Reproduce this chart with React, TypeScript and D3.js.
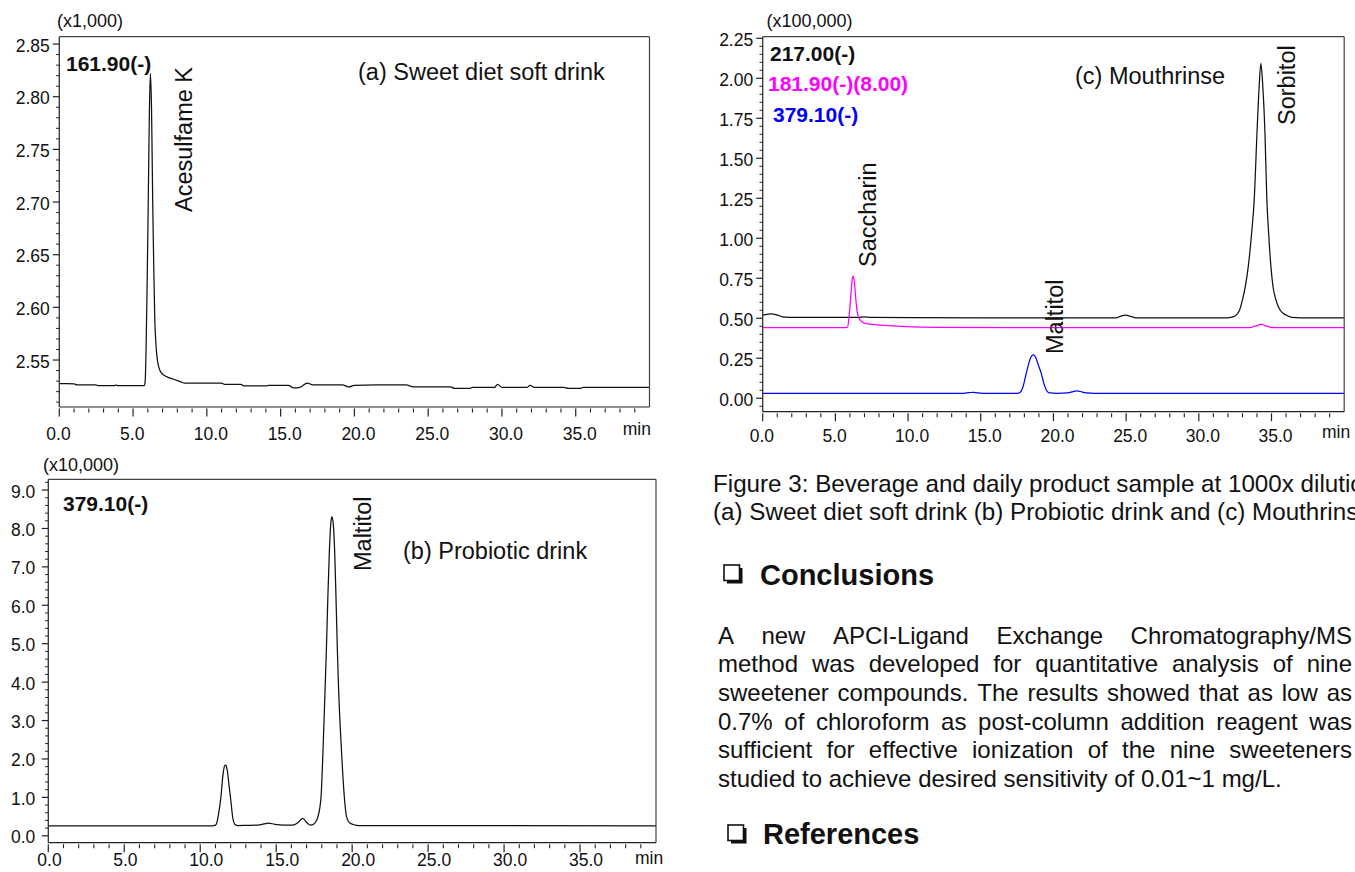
import React from 'react';
import * as d3 from 'd3';

type Pt = [number, number];

// ---------- data ----------
const timeTicks = [0, 5, 10, 15, 20, 25, 30, 35];
const yTicksA = [2.55, 2.6, 2.65, 2.7, 2.75, 2.8, 2.85];
const yTicksB = [0, 1, 2, 3, 4, 5, 6, 7, 8, 9];
const yTicksC = [0, 0.25, 0.5, 0.75, 1, 1.25, 1.5, 1.75, 2, 2.25];

// (a) Sweet diet soft drink, m/z 161.90(-), x1,000
const traceA161: Pt[] = [
  [0, 2.5275], [0.5, 2.5275], [1.0, 2.5274], [1.2, 2.5264], [2.5, 2.5263], [2.6, 2.5256],
  [3.7, 2.5256], [3.8, 2.5262], [4.0, 2.5256], [5.7, 2.5256], [5.76, 2.5258], [5.82, 2.53],
  [5.88, 2.56], [5.95, 2.62], [6.02, 2.69], [6.1, 2.78], [6.17, 2.822], [6.25, 2.79],
  [6.33, 2.70], [6.4, 2.64], [6.47, 2.59], [6.55, 2.565], [6.62, 2.553], [6.75, 2.543],
  [6.9, 2.538], [7.3, 2.534], [7.7, 2.532], [8.2, 2.5295], [8.5, 2.528], [11.0, 2.528],
  [11.2, 2.527], [12.3, 2.527], [12.5, 2.5255], [14.0, 2.5255], [14.2, 2.526], [15.5, 2.526],
  [15.9, 2.5235], [16.3, 2.524], [16.8, 2.528], [17.2, 2.5265], [19.2, 2.5265], [19.6, 2.5245],
  [20.0, 2.526], [21.5, 2.5265], [23.5, 2.5265], [24.0, 2.5245], [26.5, 2.5245], [26.8, 2.523],
  [27.8, 2.523], [28.0, 2.524], [29.5, 2.524], [29.7, 2.527], [30.0, 2.524], [31.7, 2.524],
  [31.9, 2.526], [32.2, 2.524], [34.2, 2.524], [34.5, 2.523], [35.3, 2.523], [35.5, 2.524],
  [40, 2.524],
];

// (b) Probiotic drink, m/z 379.10(-), x10,000
const traceB379: Pt[] = [
  [0, 0.26], [10.8, 0.26], [10.9, 0.262], [11.05, 0.3], [11.2, 0.55], [11.36, 1.0],
  [11.5, 1.6], [11.62, 1.83], [11.69, 1.84], [11.78, 1.7], [11.9, 1.3], [12.02, 0.9],
  [12.15, 0.45], [12.3, 0.29], [12.5, 0.265], [13.0, 0.27], [13.8, 0.28], [14.2, 0.31],
  [14.5, 0.33], [14.9, 0.3], [15.5, 0.28], [16.1, 0.28], [16.45, 0.35], [16.75, 0.45],
  [17.05, 0.33], [17.25, 0.28], [17.45, 0.3], [17.6, 0.36], [17.75, 0.5], [17.95, 1.0],
  [18.08, 2.2], [18.2, 3.6], [18.3, 4.8], [18.4, 6.2], [18.5, 7.4], [18.6, 8.15],
  [18.66, 8.31], [18.75, 8.15], [18.85, 7.4], [18.95, 6.0], [19.03, 4.8], [19.1, 3.9],
  [19.3, 2.2], [19.45, 1.2], [19.63, 0.5], [19.85, 0.33], [20.2, 0.28], [20.6, 0.265],
  [40, 0.26],
];

// (c) Mouthrinse, x100,000
const traceC217: Pt[] = [
  [0, 0.52], [0.3, 0.525], [0.6, 0.528], [1.0, 0.52], [1.5, 0.507], [2.0, 0.506],
  [4.0, 0.505], [6.6, 0.505], [7.0, 0.509], [7.4, 0.505], [15, 0.503], [24.3, 0.503],
  [24.6, 0.512], [24.96, 0.52], [25.3, 0.512], [25.7, 0.503], [32.0, 0.503], [32.4, 0.51],
  [32.8, 0.55], [33.0, 0.615], [33.2, 0.7], [33.4, 0.823], [33.65, 1.05], [33.81, 1.24],
  [34.0, 1.656], [34.15, 1.95], [34.27, 2.094], [34.4, 1.95], [34.55, 1.656], [34.68, 1.24],
  [34.79, 1.05], [34.96, 0.823], [35.1, 0.7], [35.3, 0.615], [35.6, 0.55], [36.0, 0.52],
  [36.4, 0.505], [37, 0.502], [40, 0.502],
];
const traceC181: Pt[] = [
  [0, 0.441], [5.7, 0.441], [5.84, 0.445], [5.95, 0.52], [6.04, 0.615], [6.14, 0.73],
  [6.22, 0.764], [6.3, 0.73], [6.41, 0.615], [6.5, 0.54], [6.59, 0.51], [6.7, 0.49],
  [6.91, 0.4725], [7.4, 0.463], [8.06, 0.457], [9.0, 0.452], [9.9, 0.4475], [12, 0.443],
  [20, 0.441], [33.5, 0.441], [33.9, 0.452], [34.27, 0.462], [34.65, 0.452], [35.05, 0.441],
  [40, 0.441],
];
const traceC379: Pt[] = [
  [0, 0.031], [13.8, 0.031], [14.2, 0.035], [14.47, 0.0375], [14.8, 0.033], [15.2, 0.031],
  [17.5, 0.031], [17.7, 0.036], [17.9, 0.07], [18.13, 0.156], [18.36, 0.235], [18.5, 0.265],
  [18.63, 0.271], [18.78, 0.255], [18.95, 0.21], [19.16, 0.156], [19.35, 0.09], [19.55, 0.045],
  [19.75, 0.033], [20.2, 0.031], [21.0, 0.033], [21.35, 0.042], [21.63, 0.046], [21.95, 0.04],
  [22.3, 0.033], [22.8, 0.031], [40, 0.031],
];

const captionLines = [
  'Figure 3: Beverage and daily product sample at 1000x dilution',
  '(a) Sweet diet soft drink (b) Probiotic drink and (c) Mouthrinse',
];
const conclusionLines = [
  'A new APCI-Ligand Exchange Chromatography/MS',
  'method was developed for quantitative analysis of nine',
  'sweetener compounds. The results showed that as low as',
  '0.7% of chloroform as post-column addition reagent was',
  'sufficient for effective ionization of the nine sweeteners',
  'studied to achieve desired sensitivity of 0.01~1 mg/L.',
];

// ---------- helpers ----------
const FONT = "'Liberation Sans', Arial, Helvetica, sans-serif";
let measureCtx: CanvasRenderingContext2D | null = null;
function measure(txt: string, size: number, weight = 'normal') {
  if (!measureCtx) measureCtx = document.createElement('canvas').getContext('2d');
  if (!measureCtx) return txt.length * size * 0.5;
  measureCtx.font = `${weight} ${size}px "Liberation Sans", Arial, sans-serif`;
  return measureCtx.measureText(txt).width;
}

interface Series { data: Pt[]; color: string; }
interface PanelProps {
  id: string;
  left: number; right: number; top: number; bottom: number;
  yDomain: [number, number];
  yTicks: number[];
  yMinor: number[];
  yFmt: (v: number) => string;
  yLabelGap: number;
  xLabelShift: number;
  xLabelBaseline: number;
  series: Series[];
}

function Panel(p: PanelProps) {
  const x = d3.scaleLinear().domain([0, 40]).range([p.left, p.right]);
  const y = d3.scaleLinear().domain(p.yDomain).range([p.bottom, p.top]);
  const line = d3.line<Pt>().x(d => x(d[0])).y(d => y(d[1])).curve(d3.curveMonotoneX);
  const minorX = d3.range(1, 40).filter(v => v % 5 !== 0);
  const clipId = `clip-${p.id}`;
  const fmtX = d3.format('.1f');
  return (
    <g>
      <defs>
        <clipPath id={clipId}>
          <rect x={p.left} y={p.top} width={p.right - p.left} height={p.bottom - p.top} />
        </clipPath>
      </defs>
      <g clipPath={`url(#${clipId})`}>
        {p.series.map((s, i) => (
          <path key={i} d={line(s.data) || ''} fill="none" stroke={s.color} strokeWidth={1.25} strokeLinejoin="round" />
        ))}
      </g>
      {/* frame */}
      <line x1={p.left} x2={p.right} y1={p.top} y2={p.top} stroke="#444" strokeWidth={1.2} />
      <line x1={p.right} x2={p.right} y1={p.top} y2={p.bottom} stroke="#444" strokeWidth={1.2} />
      <line x1={p.left} x2={p.left} y1={p.top} y2={p.bottom} stroke="#333" strokeWidth={1.3} />
      <line x1={p.left} x2={p.right} y1={p.bottom} y2={p.bottom} stroke="#222" strokeWidth={1.2} />
      {/* x ticks */}
      {timeTicks.map(t => (
        <g key={`xt${t}`}>
          <line x1={x(t)} x2={x(t)} y1={p.bottom + 1.5} y2={p.bottom + 9.5} stroke="#222" strokeWidth={1.2} />
          <text x={x(t) + p.xLabelShift} y={p.xLabelBaseline} fontSize={17.5} fontFamily={FONT} fill="#111">{fmtX(t)}</text>
        </g>
      ))}
      {minorX.map(t => (
        <line key={`xm${t}`} x1={x(t)} x2={x(t)} y1={p.bottom + 1.5} y2={p.bottom + 5.5} stroke="#222" strokeWidth={1.1} />
      ))}
      {/* y ticks */}
      {p.yTicks.map(v => (
        <g key={`yt${v}`}>
          <line x1={p.left - 6.5} x2={p.left} y1={y(v)} y2={y(v)} stroke="#222" strokeWidth={1.2} />
          <text x={p.left - p.yLabelGap} y={y(v) + 7.5} fontSize={17.5} fontFamily={FONT} textAnchor="end" fill="#111">{p.yFmt(v)}</text>
        </g>
      ))}
      {p.yMinor.map((v, i) => (
        <line key={`ym${i}`} x1={p.left - 3.2} x2={p.left} y1={y(v)} y2={y(v)} stroke="#222" strokeWidth={1} />
      ))}
    </g>
  );
}

function RotLabel({ x, y, text }: { x: number; y: number; text: string }) {
  return (
    <text transform={`translate(${x},${y}) rotate(-90)`} fontSize={23.5} fontFamily={FONT} fill="#111">{text}</text>
  );
}

function CheckBox({ x, y }: { x: number; y: number }) {
  return (
    <g>
      <rect x={x + 3} y={y + 3} width={15.5} height={15.5} fill="#111" />
      <rect x={x} y={y} width={15.5} height={15.5} fill="#fff" stroke="#111" strokeWidth={1.6} />
    </g>
  );
}

function JustifiedLines({ lines, x, width, y0, step, size }: { lines: string[]; x: number; width: number; y0: number; step: number; size: number }) {
  return (
    <g>
      {lines.map((ln, li) => {
        const words = ln.split(' ');
        const last = li === lines.length - 1;
        const widths = words.map(w => measure(w, size));
        const spaceW = measure(' ', size);
        const total = widths.reduce((a, b) => a + b, 0);
        const gap = last || words.length < 2 ? spaceW : (width - total) / (words.length - 1);
        let cx = x;
        return (
          <g key={li}>
            {words.map((w, wi) => {
              const px = cx;
              cx += widths[wi] + gap;
              return <text key={wi} x={px} y={y0 + li * step} fontSize={size} fontFamily={FONT} fill="#111">{w}</text>;
            })}
          </g>
        );
      })}
    </g>
  );
}

export default function App() {
  const f2 = d3.format('.2f');
  const f1 = d3.format('.1f');
  const minorA = d3.range(251, 286).filter(v => v % 5 !== 0).map(v => v / 100);
  const minorB = d3.range(0, 47).filter(i => i % 5 !== 0).map(i => i * 0.2);
  const minorC = d3.range(-1, 46).filter(i => i % 5 !== 0).map(i => i * 0.05);

  return (
    <div style={{ position: 'absolute', left: 0, top: 0 }}>
      <svg width={1355} height={872} style={{ display: 'block', background: '#fff', overflow: 'hidden' }}>
        <rect x={0} y={0} width={1355} height={872} fill="#fff" />

        {/* Panel (a) */}
        <Panel id="a" left={59.3} right={649.5} top={36.7} bottom={407}
          yDomain={[2.5054, 2.857]} yTicks={yTicksA} yMinor={minorA} yFmt={f2}
          yLabelGap={9.5} xLabelShift={-13} xLabelBaseline={440}
          series={[{ data: traceA161, color: '#111' }]} />
        <text x={57} y={27} fontSize={18} fontFamily={FONT} fill="#111">(x1,000)</text>
        <text x={66} y={71} fontSize={21} fontWeight="bold" fontFamily={FONT} fill="#111">161.90(-)</text>
        <text x={358} y={80} fontSize={23.5} fontFamily={FONT} fill="#111">(a) Sweet diet soft drink</text>
        <RotLabel x={191.5} y={212} text="Acesulfame K" />
        <text x={622.7} y={435} fontSize={17.5} fontFamily={FONT} fill="#111">min</text>

        {/* Panel (b) */}
        <Panel id="b" left={48.3} right={656} top={479.3} bottom={842.7}
          yDomain={[-0.18, 9.28]} yTicks={yTicksB} yMinor={minorB} yFmt={f1}
          yLabelGap={13} xLabelShift={-11} xLabelBaseline={866}
          series={[{ data: traceB379, color: '#111' }]} />
        <text x={43} y={471} fontSize={18} fontFamily={FONT} fill="#111">(x10,000)</text>
        <text x={63} y={510.5} fontSize={21} fontWeight="bold" fontFamily={FONT} fill="#111">379.10(-)</text>
        <text x={403} y={559} fontSize={23.5} fontFamily={FONT} fill="#111">(b) Probiotic drink</text>
        <RotLabel x={370.5} y={571} text="Maltitol" />
        <text x={635} y={864} fontSize={17.5} fontFamily={FONT} fill="#111">min</text>

        {/* Panel (c) */}
        <Panel id="c" left={762.7} right={1344.2} top={36.7} bottom={411.7}
          yDomain={[-0.084, 2.26]} yTicks={yTicksC} yMinor={minorC} yFmt={f2}
          yLabelGap={9.5} xLabelShift={-13} xLabelBaseline={442}
          series={[
            { data: traceC217, color: '#111' },
            { data: traceC181, color: '#ff00ff' },
            { data: traceC379, color: '#0000ff' },
          ]} />
        <text x={766.5} y={27} fontSize={18} fontFamily={FONT} fill="#111">(x100,000)</text>
        <text x={770} y={60.5} fontSize={21} fontWeight="bold" fontFamily={FONT} fill="#111">217.00(-)</text>
        <text x={768} y={90.5} fontSize={21} fontWeight="bold" fontFamily={FONT} fill="#ff00ff">181.90(-)(8.00)</text>
        <text x={773} y={122} fontSize={21} fontWeight="bold" fontFamily={FONT} fill="#0000ff">379.10(-)</text>
        <text x={1075} y={83.5} fontSize={23.5} fontFamily={FONT} fill="#111">(c) Mouthrinse</text>
        <RotLabel x={875.5} y={267} text="Saccharin" />
        <RotLabel x={1063} y={354} text="Maltitol" />
        <RotLabel x={1295} y={125} text="Sorbitol" />
        <text x={1322} y={438} fontSize={17.5} fontFamily={FONT} fill="#111">min</text>

        {/* Caption and text */}
        {captionLines.map((c, i) => (
          <text key={i} x={713} y={492 + i * 28} fontSize={24.2} fontFamily={FONT} fill="#111">{c}</text>
        ))}
        <CheckBox x={724} y={565} />
        <text x={760} y={585} fontSize={29} fontWeight="bold" fontFamily={FONT} fill="#111">Conclusions</text>
        <JustifiedLines lines={conclusionLines} x={718} width={634} y0={643.5} step={28.7} size={24} />
        <CheckBox x={728} y={825} />
        <text x={763} y={844} fontSize={29} fontWeight="bold" fontFamily={FONT} fill="#111">References</text>
      </svg>
    </div>
  );
}
